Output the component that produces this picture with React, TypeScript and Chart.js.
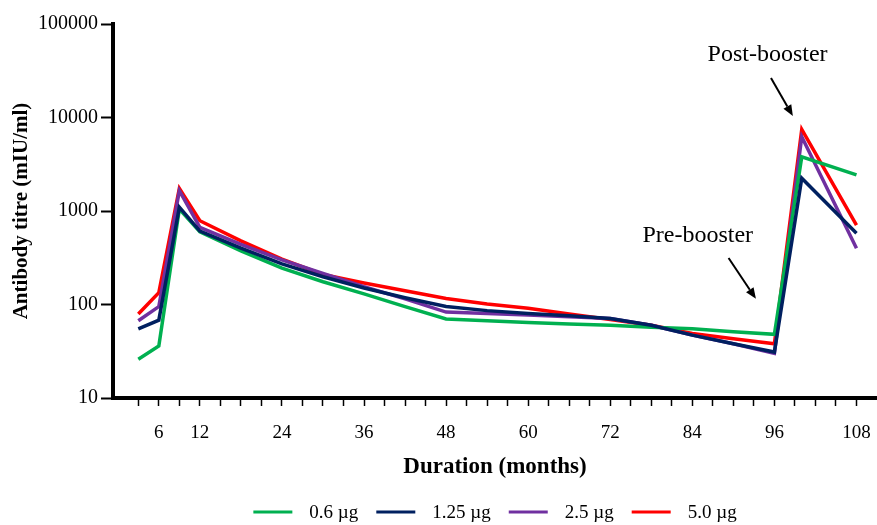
import React, { useEffect, useRef } from 'react';
import { Chart, registerables } from 'chart.js';

Chart.register(...registerables);

// ---- data ----
const months = [3, 6, 9, 12, 18, 24, 30, 36, 42, 48, 54, 60, 66, 72, 78, 84, 90, 96, 100, 108];
const seriesLabels = ['0.6 µg', '1.25 µg', '2.5 µg', '5.0 µg'];
const dose06 = [26, 36, 1050, 600, 375, 245, 175, 130, 95, 70, 67, 64, 62, 60, 57, 55, 51, 48, 3800, 2430];
const dose125 = [55, 68, 1100, 610, 400, 272, 198, 150, 118, 95, 86, 80, 76, 71, 60, 47, 38, 31, 2240, 577];
const dose25 = [67, 95, 1650, 670, 440, 300, 215, 155, 115, 83, 80, 77, 74, 71, 60, 47, 38, 30, 6240, 399];
const dose50 = [79, 134, 1750, 787, 480, 305, 210, 170, 140, 116, 101, 91, 79, 69, 60, 49, 43, 38, 7480, 708];
const seriesColors = ['#00B050', '#002060', '#7030A0', '#FF0000'];

const xTickMonths = [3, 6, 9, 12, 15, 18, 21, 24, 27, 30, 33, 36, 39, 42, 45, 48, 51, 54, 57, 60, 63, 66, 69, 72, 75, 78, 81, 84, 87, 90, 93, 96, 99, 102, 105, 108];
const xLabelMonths = [6, 12, 24, 36, 48, 60, 72, 84, 96, 108];
const yTickValues = [10, 100, 1000, 10000, 100000];

const annotations = [
  { text: 'Post-booster', x: 95.0, y: 46500, fromX: 95.5, fromY: 26400, toX: 98.7, toY: 10400 },
  { text: 'Pre-booster', x: 84.8, y: 540, fromX: 89.3, fromY: 314, toX: 93.3, toY: 115 },
];

const FONT = '"Liberation Serif", "Times New Roman", serif';

const annotationPlugin = {
  id: 'boosterNotes',
  afterDatasetsDraw(chart: any) {
    const { ctx, scales } = chart;
    const xs = scales.x;
    const ys = scales.y;
    ctx.save();
    ctx.fillStyle = '#000';
    ctx.strokeStyle = '#000';
    ctx.font = `24px ${FONT}`;
    ctx.textAlign = 'center';
    ctx.textBaseline = 'middle';
    for (const a of annotations) {
      ctx.fillText(a.text, xs.getPixelForValue(a.x), ys.getPixelForValue(a.y));
      const x1 = xs.getPixelForValue(a.fromX);
      const y1 = ys.getPixelForValue(a.fromY);
      const x2 = xs.getPixelForValue(a.toX);
      const y2 = ys.getPixelForValue(a.toY);
      const ang = Math.atan2(y2 - y1, x2 - x1);
      const head = 11;
      const hw = 4.5;
      const bx = x2 - head * Math.cos(ang);
      const by = y2 - head * Math.sin(ang);
      ctx.lineWidth = 2;
      ctx.beginPath();
      ctx.moveTo(x1, y1);
      ctx.lineTo(bx, by);
      ctx.stroke();
      ctx.beginPath();
      ctx.moveTo(x2, y2);
      ctx.lineTo(bx + hw * Math.sin(ang), by - hw * Math.cos(ang));
      ctx.lineTo(bx - hw * Math.sin(ang), by + hw * Math.cos(ang));
      ctx.closePath();
      ctx.fill();
    }
    ctx.restore();
  },
};

const legendPlugin = {
  id: 'customLegend',
  afterDraw(chart: any) {
    const { ctx, chartArea } = chart;
    const swatch = 39;
    const gapText = 17;
    const gapItem = 18;
    ctx.save();
    ctx.font = `19px ${FONT}`;
    ctx.textBaseline = 'middle';
    ctx.textAlign = 'left';
    const widths = seriesLabels.map((l) => ctx.measureText(l).width);
    const total = widths.reduce((s, w) => s + swatch + gapText + w, 0) + gapItem * (seriesLabels.length - 1);
    let x = (chartArea.left + chartArea.right) / 2 - total / 2;
    const y = 512;
    seriesLabels.forEach((l, i) => {
      ctx.strokeStyle = seriesColors[i];
      ctx.lineWidth = 3;
      ctx.beginPath();
      ctx.moveTo(x, y);
      ctx.lineTo(x + swatch, y);
      ctx.stroke();
      ctx.fillStyle = '#000';
      ctx.fillText(l, x + swatch + gapText, y + 1);
      x += swatch + gapText + widths[i] + gapItem;
    });
    ctx.restore();
  },
};

export default function App() {
  const canvasRef = useRef<HTMLCanvasElement | null>(null);

  useEffect(() => {
    if (!canvasRef.current) return;
    const series = [dose06, dose125, dose25, dose50];
    const orders = [1, 0, 2, 3];
    const chart = new Chart(canvasRef.current, {
      type: 'line',
      data: {
        datasets: series.map((vals, i) => ({
          label: seriesLabels[i],
          data: months.map((m, j) => ({ x: m, y: vals[j] })),
          borderColor: seriesColors[i],
          backgroundColor: seriesColors[i],
          borderWidth: 3.5,
          pointRadius: 0,
          tension: 0,
          order: orders[i],
          borderJoinStyle: 'miter' as const,
        })),
      },
      options: {
        responsive: false,
        animation: false,
        layout: { padding: { left: 0, right: 0, top: 24, bottom: 0 } },
        plugins: {
          legend: { display: false },
          tooltip: { enabled: false },
        },
        scales: {
          x: {
            type: 'linear',
            min: -0.7,
            max: 111,
            afterBuildTicks: (axis: any) => {
              axis.ticks = xTickMonths.map((v) => ({ value: v }));
            },
            afterFit: (axis: any) => {
              axis.height = 127;
              axis.paddingLeft = 0;
              axis.paddingRight = 0;
            },
            ticks: {
              autoSkip: false,
              maxRotation: 0,
              padding: 15.6,
              color: '#000',
              font: { family: FONT, size: 19 },
              callback: (v: any) => (xLabelMonths.includes(Number(v)) ? String(v) : ''),
            },
            grid: {
              display: true,
              drawOnChartArea: false,
              drawTicks: true,
              tickLength: 8,
              tickColor: '#000',
              tickWidth: 1.5,
            },
            border: { display: true, color: '#000', width: 4 },
            title: {
              display: true,
              text: 'Duration (months)',
              color: '#000',
              font: { family: FONT, size: 23, weight: 'bold' },
              padding: { top: 0, bottom: 44.2 },
            },
          },
          y: {
            type: 'logarithmic',
            min: 10,
            max: 100000,
            afterBuildTicks: (axis: any) => {
              axis.ticks = yTickValues.map((v) => ({ value: v }));
            },
            afterFit: (axis: any) => {
              axis.width = 113;
            },
            ticks: {
              padding: 3,
              color: '#000',
              font: { family: FONT, size: 20 },
              callback: (v: any) => String(v),
            },
            grid: {
              display: true,
              drawOnChartArea: false,
              drawTicks: true,
              tickLength: 12,
              tickColor: '#000',
              tickWidth: 2,
            },
            border: { display: true, color: '#000', width: 4 },
            title: {
              display: true,
              text: 'Antibody titre (mIU/ml)',
              color: '#000',
              font: { family: FONT, size: 21, weight: 'bold' },
              padding: { top: 9, bottom: 0 },
            },
          },
        },
      },
      plugins: [annotationPlugin, legendPlugin],
    } as any);
    return () => chart.destroy();
  }, []);

  return (
    <div style={{ position: 'fixed', left: 0, top: 0, width: 877, height: 525, background: '#fff' }}>
      <canvas ref={canvasRef} width={877} height={525} style={{ display: 'block' }} />
    </div>
  );
}
